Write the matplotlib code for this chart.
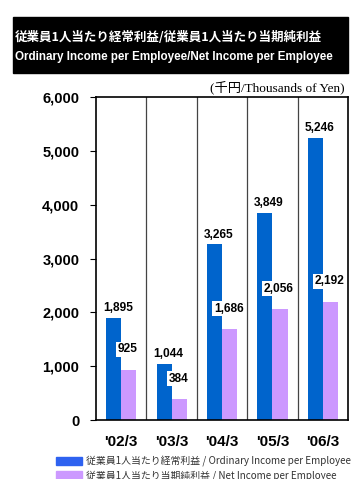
import matplotlib
matplotlib.use("Agg")
import matplotlib.pyplot as plt
from matplotlib.patches import Rectangle, Patch

years = ["'02/3", "'03/3", "'04/3", "'05/3", "'06/3"]
ordinary_income = [1895, 1044, 3265, 3849, 5246]
net_income = [925, 384, 1686, 2056, 2192]
yticks = [0, 1000, 2000, 3000, 4000, 5000, 6000]

BLUE = "#0064CC"
BLUE_LEGEND = "#2E62F0"
PURPLE = "#CC99FF"

plt.rcParams["font.family"] = ["Liberation Sans", "Noto Sans CJK JP", "DejaVu Sans"]

fig = plt.figure(figsize=(3.57, 4.79), dpi=100)
fig.patch.set_facecolor("white")

# title band
fig.patches.append(Rectangle((0.0364, 0.8476), 0.938, 0.1169,
                             transform=fig.transFigure, color="black", zorder=0))
fig.text(0.042, 0.9207, "従業員1人当たり経常利益/従業員1人当たり当期純利益",
         color="white", fontsize=9, fontweight="bold", va="center", ha="left",
         family=["Noto Sans CJK JP", "DejaVu Sans"])
fig.text(0.042, 0.881, "Ordinary Income per Employee/Net Income per Employee",
         color="white", fontsize=8.4, fontweight="bold", va="center", ha="left")
fig.text(0.966, 0.818, "(千円/Thousands of Yen)", fontsize=9.5, va="center", ha="right",
         family=["Liberation Serif", "Noto Sans CJK JP"])

ax = fig.add_axes([0.269, 0.123, 0.706, 0.674])
x = list(range(len(years)))
w = 0.3
ax.bar([i - w / 2 for i in x], ordinary_income, width=w, color=BLUE, zorder=2)
ax.bar([i + w / 2 for i in x], net_income, width=w, color=PURPLE, zorder=2)

for i, v in enumerate(ordinary_income):
    ax.annotate(f"{v:,}", (i - 0.07, v), xytext=(0, 7), textcoords="offset points",
                ha="center", va="center", fontsize=8.6, fontweight="bold", zorder=4,
                bbox=dict(boxstyle="square,pad=0.15", fc="white", ec="none"))
for i, v in enumerate(net_income):
    ax.annotate(f"{v:,}", (i + 0.13, v), xytext=(0, 15), textcoords="offset points",
                ha="center", va="center", fontsize=8.6, fontweight="bold", zorder=4,
                bbox=dict(boxstyle="square,pad=0.15", fc="white", ec="none"))

# separators between years
for i in range(len(years) - 1):
    ax.axvline(i + 0.5, color="#444444", linewidth=0.9, zorder=1)

ax.set_xlim(-0.5, len(years) - 0.5)
ax.set_ylim(0, 6000)
ax.set_yticks(yticks)
ax.set_yticklabels([f"{t:,}" for t in yticks], fontsize=10.5, fontweight="bold")
ax.set_xticks(x)
ax.set_xticklabels(years, fontsize=11, fontweight="bold")
ax.tick_params(axis="y", direction="out", length=4, pad=8)
ax.tick_params(axis="x", length=0, pad=10.5)
for s in ax.spines.values():
    s.set_linewidth(1.2)

handles = [Patch(color=BLUE_LEGEND), Patch(color=PURPLE)]
labels = ["従業員1人当たり経常利益 / Ordinary Income per Employee",
          "従業員1人当たり当期純利益 / Net Income per Employee"]
leg = fig.legend(handles, labels, loc="upper left", bbox_to_anchor=(0.158, 0.048),
                 frameon=False, handlelength=2.6, handleheight=0.9,
                 handletextpad=0.45, labelspacing=0.3, borderpad=0, borderaxespad=0,
                 prop={"family": ["Noto Sans CJK JP", "DejaVu Sans"], "size": 7.1})
for t in leg.get_texts():
    t.set_color("#333333")

fig.savefig("out.png", dpi=100)
